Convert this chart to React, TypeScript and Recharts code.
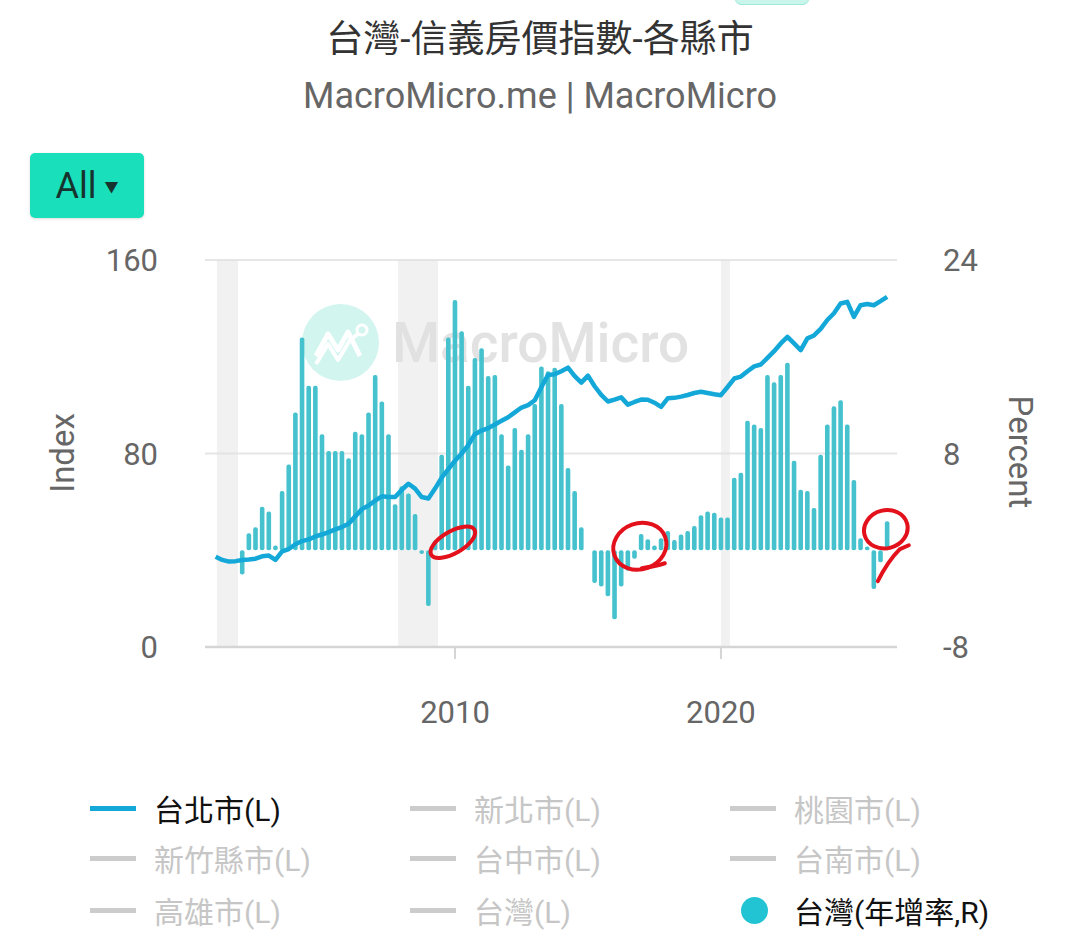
import {
  ComposedChart,
  Bar,
  Line,
  XAxis,
  YAxis,
  CartesianGrid,
  ReferenceArea,
  ReferenceDot,
} from "recharts";

const FONT = "Roboto, 'Noto Sans CJK TC', sans-serif";

// quarterly categories, 2001Q1 onwards
const years = [
  2001, 2002, 2003, 2004, 2005, 2006, 2007, 2008, 2009, 2010, 2011, 2012, 2013,
  2014, 2015, 2016, 2017, 2018, 2019, 2020, 2021, 2022, 2023, 2024, 2025, 2026,
];
const quarterOffsets = [0, 0.25, 0.5, 0.75];

// 台北市 信義房價指數 (left axis)
const taipeiIndex = [
  37.3, 36, 35.3, 35.5, 36, 36.2, 36.5, 37.5, 37.8, 36, 39.5, 40.5, 42.5, 43.8,
  44.5, 45.7, 46.5, 47.5, 48.6, 49.6, 51, 54, 57, 58.5, 60.5, 62.3, 62, 62, 65,
  67.5, 65.5, 62, 61.4, 65.5, 70, 73.5, 77, 80, 83.5, 88, 89.5, 90.5, 92, 93.5,
  95, 97, 99, 100, 102, 107.5, 112.5, 112.8, 114, 115.5, 112, 109.3, 112.2,
  107.8, 104.2, 101.5, 102.3, 103.2, 100.2, 101.3, 102.3, 102.2, 101, 99.3,
  102.8, 103, 103.5, 104.2, 105, 105.5, 105, 104.5, 104.1, 107.5, 111, 111.8,
  114, 116, 116.8, 119.5, 122.3, 125.5, 128.2, 125.5, 122.7, 127.6, 128.8,
  131.5, 135.2, 138, 142, 142.7, 136.5, 141.3, 141.8, 141.3, 143, 144.8,
];

// 台灣 年增率 % (right axis), starts 2002Q1
const taiwanYoY = [
  null, null, null, null,
  -2.0, 1.4, 1.9, 3.6, 3.2, 0.4, 4.9, 7.1, 11.4, 17.6, 13.6, 13.6, 9.6, 8.2,
  8.2, 8.2, 7.6, 9.8, 9.6, 11.4, 14.5, 12.3, 9.6, 3.8, 5.3, 4.7, 3.0, -0.3,
  -4.6, 0.8, 7.9, 17.6, 20.7, 18.1, 13.6, 15.9, 16.7, 14.4, 14.5, 9.6, 7.0,
  10.1, 8.3, 9.6, 12.1, 15.2, 14.8, 15.1, 12.1, 6.8, 4.9, 1.9, 0, -2.7, -3.0,
  -3.8, -5.7, -3.0, -1.7, -0.7, 1.35, 0.9, 0.4, 1.0, 1.6, 0.85, 1.3, 1.6, 2.0,
  2.9, 3.2, 3.1, 2.7, 2.7, 6.0, 6.4, 10.7, 10.4, 10.1, 14.5, 13.9, 14.5, 15.5,
  7.4, 5.0, 4.9, 3.5, 7.9, 10.4, 11.9, 12.4, 10.4, 5.8, 1.0, 0.3, -3.2, -1.0,
  2.4,
];

// recession shading
const recessions = [
  [2001.05, 2001.84],
  [2007.86, 2009.36],
  [2020.0, 2020.34],
];

const legendItems = [
  { name: "台北市(L)", active: true, icon: "line" },
  { name: "新北市(L)", active: false, icon: "line" },
  { name: "桃園市(L)", active: false, icon: "line" },
  { name: "新竹縣市(L)", active: false, icon: "line" },
  { name: "台中市(L)", active: false, icon: "line" },
  { name: "台南市(L)", active: false, icon: "line" },
  { name: "高雄市(L)", active: false, icon: "line" },
  { name: "台灣(L)", active: false, icon: "line" },
  { name: "台灣(年增率,R)", active: true, icon: "circle" },
];

const LINE_COLOR = "#14A8D8";
const BAR_COLOR = "#45C2CD";
const MARK_RED = "#E3111B";

const quarters = years.flatMap((y) => quarterOffsets.map((q) => y + q));
const data = taipeiIndex.map((v, i) => ({
  t: quarters[i],
  taipei: v,
  yoy: taiwanYoY[i],
}));

// hand drawn red marks, anchored in data space
const Mark1 = ({ cx, cy }: any) => (
  <ellipse
    cx={cx}
    cy={cy}
    rx={25}
    ry={11}
    transform={`rotate(-30 ${cx} ${cy})`}
    fill="none"
    stroke={MARK_RED}
    strokeWidth={4}
  />
);
const Mark2 = ({ cx, cy }: any) => (
  <g fill="none" stroke={MARK_RED} strokeWidth={4} strokeLinecap="round">
    <ellipse cx={cx} cy={cy} rx={27} ry={23} transform={`rotate(-20 ${cx} ${cy})`} />
    <path d={`M ${cx + 2} ${cy + 22} Q ${cx + 16} ${cy + 20} ${cx + 25} ${cy + 17}`} />
  </g>
);
const Mark3 = ({ cx, cy }: any) => (
  <g fill="none" stroke={MARK_RED} strokeWidth={4} strokeLinecap="round">
    <ellipse cx={cx} cy={cy} rx={22} ry={19} transform={`rotate(-15 ${cx} ${cy})`} />
    <path d={`M ${cx + 23} ${cy + 16} L ${cx + 14} ${cy + 20} Q ${cx + 2} ${cy + 32} ${cx - 8} ${cy + 52}`} />
  </g>
);

function Legend() {
  const cols = [90, 410, 730];
  const rows = [808, 858, 910];
  return (
    <>
      {legendItems.map((item, i) => {
        const x = cols[i % 3];
        const y = rows[Math.floor(i / 3)];
        const iconColor = item.active
          ? item.icon === "line"
            ? LINE_COLOR
            : "#22C4D4"
          : "#CCCCCC";
        return (
          <div
            key={item.name}
            style={{
              position: "absolute",
              left: x,
              top: y - 20,
              height: 40,
              display: "flex",
              alignItems: "center",
              fontFamily: FONT,
              fontSize: 30,
              color: item.active ? "#111" : "#C6C6C6",
              whiteSpace: "nowrap",
            }}
          >
            {item.icon === "line" ? (
              <span
                style={{
                  width: 46,
                  height: 5,
                  background: iconColor,
                  marginRight: 18,
                }}
              />
            ) : (
              <span
                style={{
                  width: 27,
                  height: 27,
                  borderRadius: "50%",
                  background: iconColor,
                  marginLeft: 11,
                  marginRight: 26,
                }}
              />
            )}
            {item.name}
          </div>
        );
      })}
    </>
  );
}

export default function App() {
  return (
    <div
      style={{
        position: "absolute",
        left: 0,
        top: 0,
        width: 1080,
        height: 949,
        background: "#fff",
        overflow: "hidden",
        fontFamily: FONT,
      }}
    >
      <div
        style={{
          position: "absolute",
          left: 735,
          top: -12,
          width: 72,
          height: 15,
          borderRadius: 6,
          background: "#C9F5EC",
          border: "1px solid #9EE8DA",
        }}
      />
      <div
        style={{
          position: "absolute",
          left: 0,
          top: 16,
          width: 1080,
          textAlign: "center",
          fontSize: 37,
          color: "#333",
          lineHeight: "48px",
        }}
      >
        台灣-信義房價指數-各縣市
      </div>
      <div
        style={{
          position: "absolute",
          left: 0,
          top: 74,
          width: 1080,
          textAlign: "center",
          fontSize: 36,
          color: "#666",
          lineHeight: "44px",
        }}
      >
        MacroMicro.me | MacroMicro
      </div>
      <div
        style={{
          position: "absolute",
          left: 30,
          top: 153,
          width: 114,
          height: 65,
          borderRadius: 5,
          background: "#19E0BB",
          boxShadow: "0 1px 3px rgba(0,0,0,0.15)",
          display: "flex",
          alignItems: "center",
          justifyContent: "center",
          color: "#17332D",
          fontSize: 36,
        }}
      >
        All
        <span style={{ fontSize: 14, marginLeft: 8 }}>▼</span>
      </div>

      {/* watermark */}
      <div
        style={{
          position: "absolute",
          left: 302,
          top: 304,
          width: 77,
          height: 77,
          borderRadius: "50%",
          background: "#D2F5EF",
        }}
      >
        <svg width={77} height={77}>
          <polyline
            points="14,52 26,30 36,46 46,28 58,52"
            fill="none"
            stroke="#fff"
            strokeWidth={5}
            strokeLinejoin="round"
          />
          <polyline
            points="14,60 26,40 36,56 48,36 56,30"
            fill="none"
            stroke="#fff"
            strokeWidth={4}
            strokeLinejoin="round"
          />
          <circle cx={60} cy={26} r={5} fill="none" stroke="#fff" strokeWidth={3} />
        </svg>
      </div>
      <div
        style={{
          position: "absolute",
          left: 392,
          top: 310,
          fontSize: 55,
          fontWeight: 500,
          color: "#E2E2E2",
          lineHeight: "66px",
        }}
      >
        MacroMicro
      </div>

      <div style={{ position: "absolute", left: 0, top: 0 }}>
        <ComposedChart
          width={1080}
          height={760}
          data={data}
          margin={{ top: 260, right: 83, left: 105, bottom: 53 }}
        >
          <CartesianGrid
            yAxisId="L"
            vertical={false}
            stroke="#E6E6E6"
            strokeWidth={2}
          />
          {recessions.map(([a, b]) => (
            <ReferenceArea
              key={a}
              yAxisId="L"
              x1={a}
              x2={b}
              y1={0}
              y2={160}
              fill="#E0E0E0"
              fillOpacity={0.45}
              stroke="none"
            />
          ))}
          <XAxis
            dataKey="t"
            type="number"
            domain={[2000.6, 2026.62]}
            ticks={[2010, 2020]}
            allowDataOverflow
            height={60}
            stroke="#D5D5D5"
            axisLine={{ stroke: "#D5D5D5", strokeWidth: 2.5 }}
            tickLine={{ stroke: "#D5D5D5", strokeWidth: 2 }}
            tickSize={12}
            tickMargin={42}
            tick={{ fill: "#666", fontSize: 31, fontFamily: FONT }}
          />
          <YAxis
            yAxisId="L"
            orientation="left"
            domain={[0, 160]}
            ticks={[0, 80, 160]}
            width={100}
            axisLine={false}
            tickLine={false}
            tickSize={0}
            tickMargin={47}
            tick={{ fill: "#666", fontSize: 31, fontFamily: FONT }}
          />
          <YAxis
            yAxisId="R"
            orientation="right"
            domain={[-8, 24]}
            ticks={[-8, 8, 24]}
            width={100}
            axisLine={false}
            tickLine={false}
            tickSize={0}
            tickMargin={46}
            tick={{ fill: "#666", fontSize: 31, fontFamily: FONT }}
          />
          <Bar
            yAxisId="R"
            dataKey="yoy"
            name="台灣(年增率,R)"
            fill={BAR_COLOR}
            barSize={4.6}
            radius={2}
            isAnimationActive={false}
          />
          <Line
            yAxisId="L"
            dataKey="taipei"
            name="台北市(L)"
            type="linear"
            stroke={LINE_COLOR}
            strokeWidth={4.5}
            strokeLinejoin="round"
            dot={false}
            activeDot={false}
            isAnimationActive={false}
          />
          <ReferenceDot
            yAxisId="R"
            x={2009.92}
            y={0.66}
            ifOverflow="visible"
            shape={Mark1}
          />
          <ReferenceDot
            yAxisId="R"
            x={2016.95}
            y={0.33}
            ifOverflow="visible"
            shape={Mark2}
          />
          <ReferenceDot
            yAxisId="R"
            x={2026.2}
            y={1.74}
            ifOverflow="visible"
            shape={Mark3}
          />
        </ComposedChart>
      </div>

      <div
        style={{
          position: "absolute",
          left: 62,
          top: 453,
          transform: "translate(-50%, -50%) rotate(-90deg)",
          fontSize: 33,
          color: "#666",
          whiteSpace: "nowrap",
        }}
      >
        Index
      </div>
      <div
        style={{
          position: "absolute",
          left: 1020,
          top: 452,
          transform: "translate(-50%, -50%) rotate(90deg)",
          fontSize: 33,
          color: "#666",
          whiteSpace: "nowrap",
        }}
      >
        Percent
      </div>

      <Legend />
    </div>
  );
}
